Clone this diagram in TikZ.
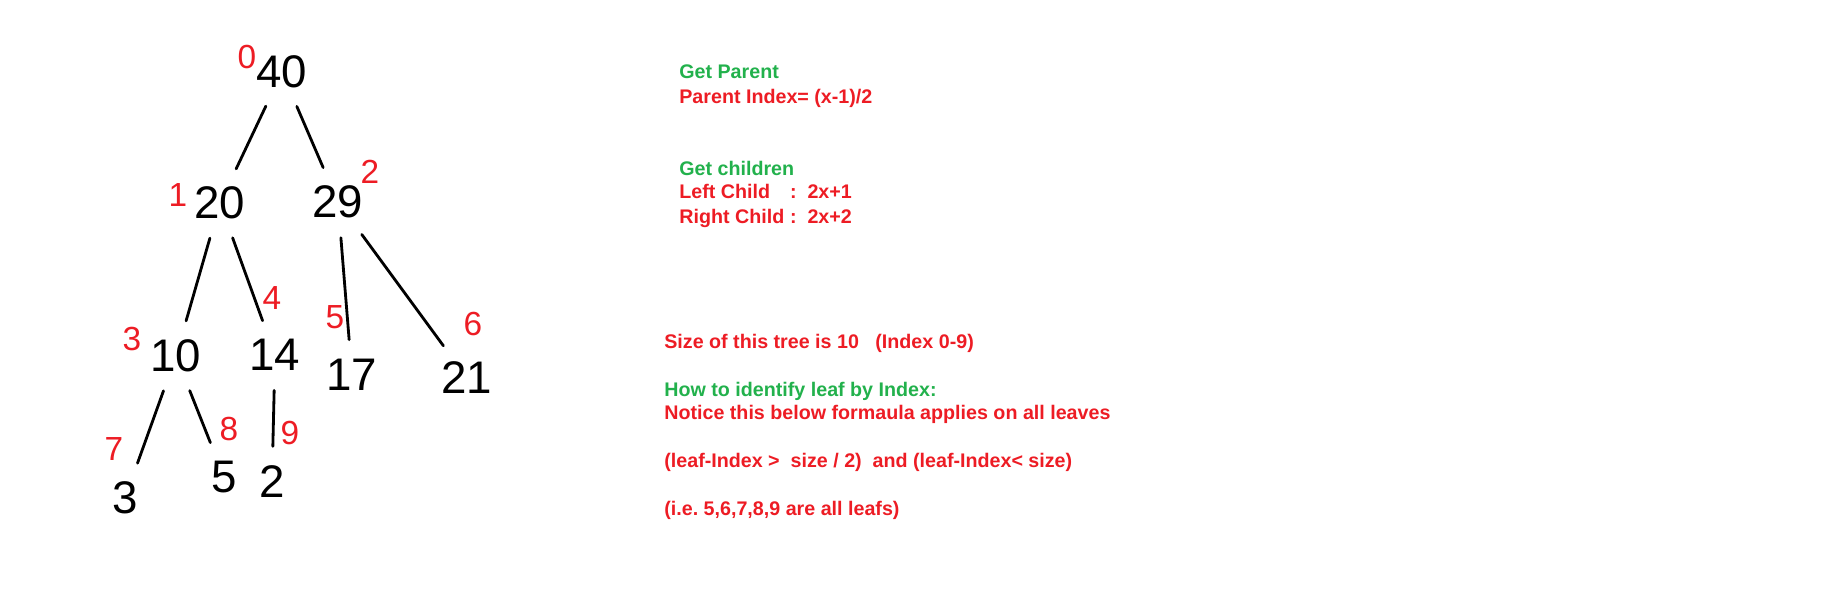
\documentclass[tikz,border=0pt]{standalone}
\usepackage{fontspec}
\setmainfont{Liberation Sans}
\usetikzlibrary{positioning}
\definecolor{notegreen}{RGB}{34,177,76}
\definecolor{notered}{RGB}{237,28,36}
\tikzset{
  value/.style={font=\fontsize{26}{26}\selectfont, text=black, inner sep=1pt},
  index/.style={font=\fontsize{19}{19}\selectfont, text=notered, inner sep=1pt},
  edge/.style={line width=1.6pt, line cap=round, shorten >=10pt, shorten <=10pt},
  heading/.style={anchor=base west, inner sep=0pt, font=\fontsize{11.2}{13}\selectfont\bfseries, text=notegreen},
  note/.style={anchor=base west, inner sep=0pt, font=\fontsize{11.2}{13}\selectfont\bfseries, text=notered}
}

\begin{document}
\begin{tikzpicture}[x=0.02cm, y=-0.02cm]
  \useasboundingbox (0,0) rectangle (1837,612);

  % Valores del arbol
  \node (n40) [value] at (282,72) {40};
  \node (n20) [value] at (220,203) {20};
  \node (n29) [value] at (338,202) {29};
  \node (n10) [value] at (176,356) {10};
  \node (n14) [value] at (275,355) {14};
  \node (n17) [value] at (352,375) {17};
  \node (n21) [value] at (467,378) {21};
  \node (n3)  [value] at (125,498) {3};
  \node (n5)  [value] at (224,477) {5};
  \node (n2)  [value] at (272,482) {2};

  % Indices
  \node (i0) [index] at (247,57) {0};
  \node (i1) [index] at (178,195) {1};
  \node (i2) [index] at (370,172) {2};
  \node (i3) [index] at (132,339) {3};
  \node (i4) [index] at (272,298) {4};
  \node (i5) [index] at (335,317) {5};
  \node (i6) [index] at (473,324) {6};
  \node (i7) [index] at (114,449) {7};
  \node (i8) [index] at (229,429) {8};
  \node (i9) [index] at (290,433) {9};

  % Aristas
  \draw [edge] (n40) -- (n20);
  \draw [edge] (n40) -- (n29);
  \draw [edge] (n20) -- (n10);
  \draw [edge] (n20) -- (n14);
  \draw [edge] (n29) -- (n17);
  \draw [edge] (n29) -- (n21);
  \draw [edge] (n10) -- (n3);
  \draw [edge] (n10) -- (n5);
  \draw [edge] (n14) -- (n2);

  % Notas
  \node (getparent) [heading] at (679,78) {Get Parent};
  \node (parentidx) [note] at (679,103) {Parent Index= (x-1)/2};
  \node (getchild) [heading] at (679,175) {Get children};
  \node (leftchild) [note] at (679,198) {\makebox[63pt][l]{Left Child}:\ \ 2x+1};
  \node (rightchild) [note] at (679,223) {\makebox[63pt][l]{Right Child}:\ \ 2x+2};

  \node (size) [note] at (664,348) {Size of this tree is 10\ \ \ (Index 0-9)};
  \node (howleaf) [heading] at (664,396) {How to identify leaf by Index:};
  \node (notice) [note] at (664,419) {Notice this below formaula applies on all leaves};
  \node (formula) [note] at (664,467) {(leaf-Index >\ \ size / 2)\ \ and (leaf-Index< size)};
  \node (leafs) [note] at (664,515) {(i.e.\ 5,6,7,8,9 are all leafs)};
\end{tikzpicture}
\end{document}
